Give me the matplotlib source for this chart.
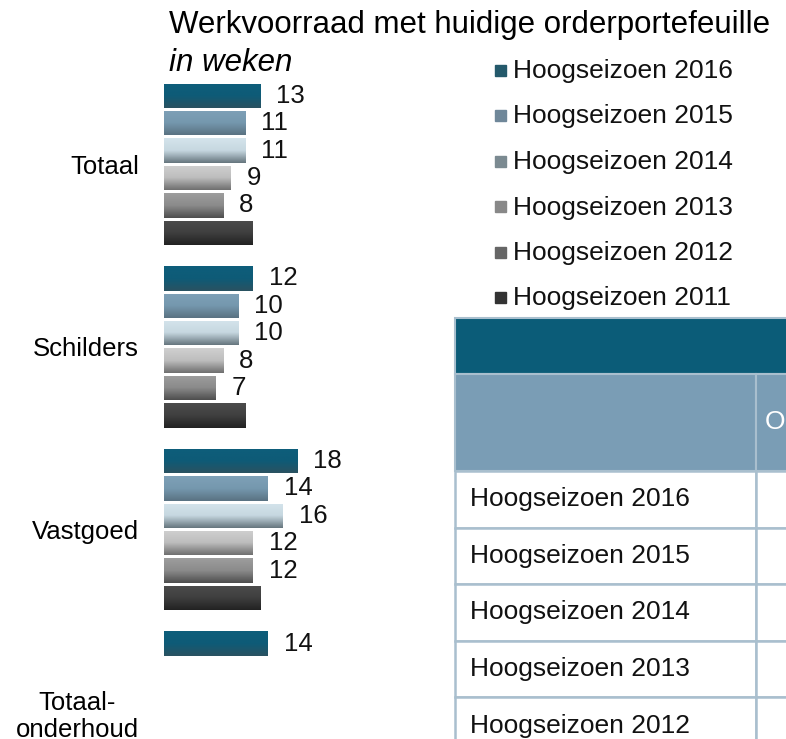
import numpy as np
import matplotlib
matplotlib.use("Agg")
from matplotlib import pyplot as plt
from matplotlib.colors import LinearSegmentedColormap
from matplotlib.patches import Rectangle

plt.rcParams['font.family'] = ['Liberation Sans', 'DejaVu Sans']

# data
categories = ["Totaal", "Schilders", "Vastgoed", "Totaal-\nonderhoud"]
years = ["Hoogseizoen 2016", "Hoogseizoen 2015", "Hoogseizoen 2014",
         "Hoogseizoen 2013", "Hoogseizoen 2012", "Hoogseizoen 2011"]
v2016 = [13, 12, 18, 14]
v2015 = [11, 10, 14, np.nan]
v2014 = [11, 10, 16, np.nan]
v2013 = [9, 8, 12, np.nan]
v2012 = [8, 7, 12, np.nan]
v2011 = [12, 11, 13, np.nan]
values = [v2016, v2015, v2014, v2013, v2012, v2011]
labelled = [True, True, True, True, True, False]
table_header = "Orderportefeuille"

# gradient (top, middle, bottom) per series, plus legend swatch colour
gradients = [
    ["#0e5e7b", "#0e5b77", "#2a5261"],
    ["#7ea0b7", "#7598ae", "#5a7282"],
    ["#d4e4ec", "#c6d7e0", "#66767e"],
    ["#d0d0d0", "#bdbdbd", "#6f6f6f"],
    ["#9d9d9d", "#8b8b8b", "#4e4e4e"],
    ["#4c4c4c", "#3f3f3f", "#222222"],
]
swatches = ["#24596b", "#6f8799", "#7b8a91", "#888888", "#666666", "#333333"]

W, H = 786, 739
fig = plt.figure(figsize=(W / 100, H / 100), dpi=100)

# ---- bar chart ----
px_per_unit = 7.41
xmax = 40
group_px = 182.6
first_center = 164.3
ax = fig.add_axes([164 / W, 0, xmax * px_per_unit / W, 1])
centers = np.arange(len(categories))
bar_step = 27.4 / group_px
bar_h = 24.5 / group_px

for j, vals in enumerate(values):
    ys = centers + (j - 2.5) * bar_step
    bars = ax.barh(ys, vals, height=bar_h, color=gradients[j][1], edgecolor="none")
    cmap = LinearSegmentedColormap.from_list("g%d" % j, gradients[j])
    for b, v, y in zip(bars, vals, ys):
        if np.isnan(v):
            continue
        x0, y0 = b.get_x(), b.get_y()
        im = ax.imshow(np.linspace(0, 1, 64).reshape(-1, 1), cmap=cmap,
                       extent=(x0, x0 + v, y0 + bar_h, y0), origin="upper",
                       aspect="auto", zorder=2)
        im.set_clip_path(b)
        if labelled[j]:
            ax.annotate(str(int(v)), (v, y), xytext=(11.5, 0), textcoords="offset points",
                        va="center", ha="left", fontsize=18.5, color="#111111")

ax.set_xlim(0, xmax)
ax.set_ylim((H - first_center) / group_px, -first_center / group_px)
ax.set_yticks(centers)
ax.set_yticklabels(categories, fontsize=18.5)
for lab in ax.get_yticklabels():
    lab.set_multialignment("center")
ax.tick_params(axis="y", length=0, pad=18)
ax.set_xticks([])
for s in ax.spines.values():
    s.set_visible(False)
ax.patch.set_alpha(0)

# ---- titles ----
fig.text(169 / W, 1 - 33 / H, "Werkvoorraad met huidige orderportefeuille",
         fontsize=22.5, va="baseline", ha="left")
fig.text(169 / W, 1 - 71 / H, "in weken", fontsize=22.5, style="italic",
         va="baseline", ha="left")

# ---- overlay in pixel units for legend and table ----
ov = fig.add_axes([0, 0, 1, 1], zorder=-1)
ov.set_xlim(0, W)
ov.set_ylim(H, 0)
ov.axis("off")

for i, name in enumerate(years):
    yc = 71 + i * 45.5
    ov.add_patch(Rectangle((494.5, yc - 6.5), 11, 11, color=swatches[i]))
    ov.text(513, yc, name, fontsize=19, va="center", ha="left", color="#111111")

# table
border = "#a9bfce"
tx0, tdiv, tright = 455, 755.7, 1000
ov.add_patch(Rectangle((tx0, 318), tright - tx0, 56, facecolor="#0b5c78",
                       edgecolor=border, lw=1.5))
ov.add_patch(Rectangle((tx0, 374), tdiv - tx0, 97, facecolor="#7a9db5",
                       edgecolor=border, lw=1.5))
ov.add_patch(Rectangle((tdiv, 374), tright - tdiv, 97, facecolor="#7a9db5",
                       edgecolor=border, lw=1.5))
ov.text(765, 422.5, table_header, color="white", fontsize=19, va="center", ha="left")
row_h = 56.6
for i, name in enumerate(years):
    top = 471 + i * row_h
    ov.add_patch(Rectangle((tx0, top), tdiv - tx0, row_h, facecolor="white",
                           edgecolor=border, lw=1.8))
    ov.add_patch(Rectangle((tdiv, top), tright - tdiv, row_h, facecolor="white",
                           edgecolor=border, lw=1.8))
    ov.text(470, top + row_h / 2, name, fontsize=19, va="center", ha="left",
            color="#111111")

fig.savefig("out.png", dpi=100)
